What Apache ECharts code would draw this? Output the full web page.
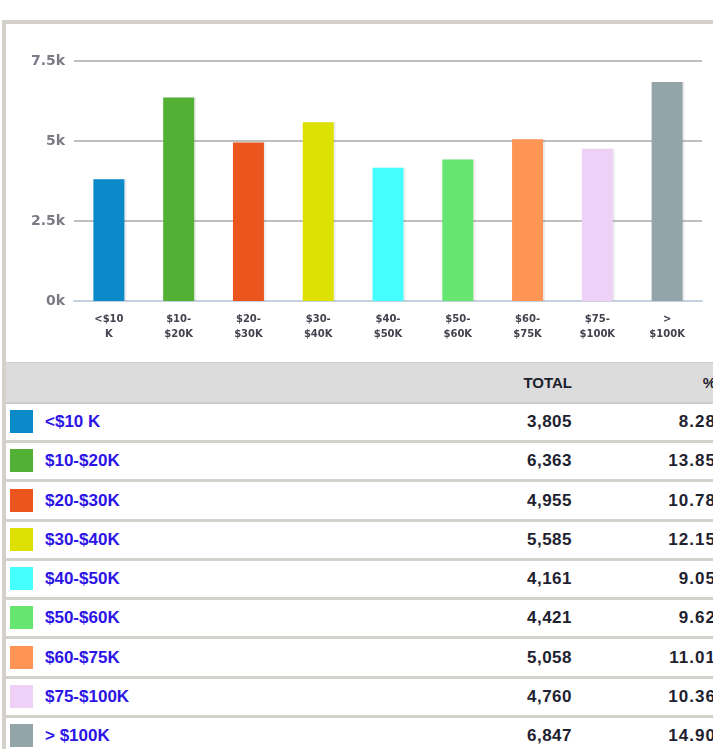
<!DOCTYPE html>
<html>
<head>
<meta charset="utf-8">
<script src="https://cdn.jsdelivr.net/npm/echarts@6/dist/echarts.min.js"></script>
<style>
body{margin:0;width:713px;height:749px;overflow:hidden;background:#fff;position:relative;font-family:"Liberation Sans",Arial,sans-serif}
#frameTop{position:absolute;left:2px;top:20px;width:711px;height:4px;background:#d4d0cc}
#frameLeft{position:absolute;left:2px;top:20px;width:4px;height:729px;background:#d4d0cc}
#chart{position:absolute;left:0;top:0;width:713px;height:363px}
#head{position:absolute;left:6px;top:362px;width:707px;height:39px;background:#dcdcdc;border-top:1px solid #cfcbc7;border-bottom:3px solid #d0ccc8}
#head span{position:absolute;top:0;line-height:39px;font-weight:bold;font-size:15px;color:#1c1e2c}
.row{position:absolute;left:6px;width:707px;height:36px;border-bottom:3px solid #d4d0cc;background:#fff}
.sw{position:absolute;left:4px;top:6px;width:23px;height:23px}
.lbl{position:absolute;left:39px;top:0;line-height:36px;font-weight:bold;font-size:17px;color:#2c14e6;white-space:nowrap}
.tot{position:absolute;right:141px;top:0;line-height:36px;font-weight:bold;font-size:17px;color:#1e2230;letter-spacing:0.5px}
.pct{position:absolute;right:-19px;top:0;line-height:36px;font-weight:bold;font-size:17px;color:#1e2230;letter-spacing:1px;white-space:nowrap}
</style>
</head>
<body>
<div id="frameTop"></div>
<div id="frameLeft"></div>
<div id="head"><span style="right:141px">TOTAL</span><span style="right:-3px">%</span></div>
<div id="rows"></div>
<div id="chart"></div>
<script>
// income brackets
var categories = ['<$10 K', '$10-$20K', '$20-$30K', '$30-$40K', '$40-$50K', '$50-$60K', '$60-$75K', '$75-$100K', '> $100K'];
var axisLabels = ['<$10\nK', '$10-\n$20K', '$20-\n$30K', '$30-\n$40K', '$40-\n$50K', '$50-\n$60K', '$60-\n$75K', '$75-\n$100K', '>\n$100K'];
var totals = [3805, 6363, 4955, 5585, 4161, 4421, 5058, 4760, 6847];
var percents = ['8.28%', '13.85%', '10.78%', '12.15%', '9.05%', '9.62%', '11.01%', '10.36%', '14.90%'];
var barColors = ['#0a8ac8', '#52b035', '#ea561d', '#dde000', '#45ffff', '#66e570', '#ff9555', '#efd1f7', '#94a5aa'];
var yTickLabels = ['0k', '2.5k', '5k', '7.5k'];

// table under the chart
var rowsEl = document.getElementById('rows');
categories.forEach(function (name, i) {
  var row = document.createElement('div');
  row.className = 'row';
  row.style.top = Math.round(404 + i * 39.25) + 'px';
  row.innerHTML = '<div class="sw" style="background:' + barColors[i] + '"></div>' +
    '<div class="lbl"></div>' +
    '<div class="tot">' + totals[i].toLocaleString('en-US') + '</div>' +
    '<div class="pct">' + percents[i] + '</div>';
  row.querySelector('.lbl').textContent = name;
  rowsEl.appendChild(row);
});

var myChart = echarts.init(document.getElementById('chart'));
myChart.setOption({
  animation: false,
  grid: { left: 74, right: 11, top: 61, bottom: 62 },
  xAxis: {
    type: 'category',
    data: axisLabels,
    axisLine: { lineStyle: { color: '#c4d2df', width: 2 } },
    axisTick: { length: 8, lineStyle: { color: '#c4d2df', width: 2 } },
    axisLabel: {
      interval: 0,
      margin: 11,
      lineHeight: 15,
      fontFamily: 'DejaVu Sans',
      fontWeight: 'bold',
      fontSize: 10,
      color: '#45424f'
    }
  },
  yAxis: {
    type: 'value',
    min: 0,
    max: 7500,
    interval: 2500,
    axisLine: { show: false },
    axisTick: { show: false },
    splitLine: { lineStyle: { color: '#bfbfbf', width: 2 } },
    axisLabel: {
      margin: 9,
      formatter: function (v) { return yTickLabels[Math.round(v / 2500)]; },
      fontFamily: 'DejaVu Sans',
      fontWeight: 'bold',
      fontSize: 14,
      color: '#7d7a88'
    }
  },
  series: [{
    type: 'bar',
    barWidth: 31,
    data: totals.map(function (v, i) {
      return { value: v, itemStyle: { color: barColors[i] } };
    }),
    itemStyle: { shadowColor: 'rgba(0,0,0,0.07)', shadowOffsetX: 2 }
  }]
});
</script>
</body>
</html>
